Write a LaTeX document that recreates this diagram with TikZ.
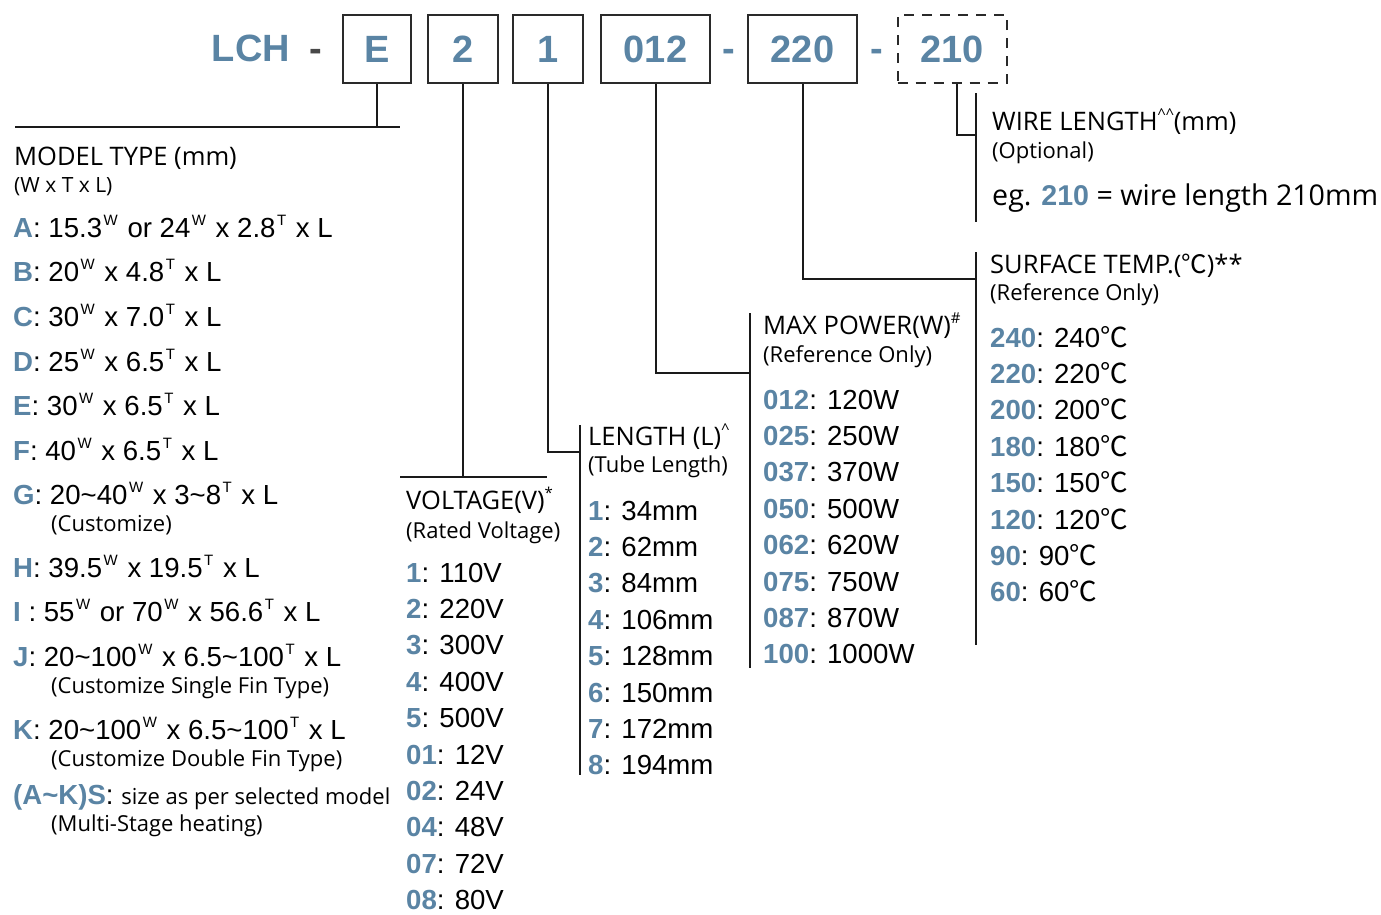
\documentclass[tikz,border=0pt]{standalone}
\usepackage{fontspec}
\setmainfont{Liberation Sans}
\newfontfamily\hdr{Open Sans}
\newfontfamily\cjkf{Noto Sans CJK SC}
\definecolor{lb}{HTML}{5A84A4}
\definecolor{linec}{HTML}{1A1A1A}
\definecolor{boxc}{HTML}{2A2A2A}
\newcommand\bl[1]{\textcolor{lb}{\textbf{#1}}}
\newcommand\sups[1]{\hspace{1.5pt}\raisebox{0.4em}{\fontsize{15}{15}\selectfont #1}\hspace{2pt}}
\newcommand\hsup[1]{\raisebox{0.42em}{\fontsize{15}{15}\selectfont #1}}
\newcommand\sW{\sups{W}}
\newcommand\sT{\sups{T}}
\newcommand\degc{{\cjkf ℃}}
\tikzset{
  val/.style={anchor=base west, inner sep=0pt, font=\fontsize{27.6}{30}\selectfont},
  hd/.style={anchor=base west, inner sep=0pt, font=\hdr\fontsize{25.5}{28}\selectfont},
  subh/.style={anchor=base west, inner sep=0pt, font=\hdr\fontsize{22}{24}\selectfont},
  codebox/.style={draw=boxc, line width=2pt, minimum height=68pt, inner sep=0pt, text=lb,
    font=\bfseries\fontsize{38}{40}\selectfont, text height=27pt, text depth=0pt},
  dashbox/.style={codebox, dashed, dash pattern=on 10pt off 8pt},
  sep/.style={inner sep=0pt, font=\bfseries\fontsize{38}{40}\selectfont, text height=27pt, text depth=0pt},
  ln/.style={draw=linec, line width=2pt},
}
\begin{document}
\begin{tikzpicture}[x=1pt,y=-1pt]
\useasboundingbox (0,0) rectangle (1381,914);
% ---------- header ----------
\node[sep, text=lb, anchor=center] (lch) at (251,48) {LCH};
\node[sep, text=linec!80] (d1) at (316,48) {-};
\node[codebox, minimum width=68pt] (bE) at (377,49) {E};
\node[codebox, minimum width=70pt] (b2) at (463,49) {2};
\node[codebox, minimum width=70pt] (b1) at (548,49) {1};
\node[codebox, minimum width=109pt] (b012) at (655.5,49) {012};
\node[sep, text=lb] (d2) at (729,48) {-};
\node[codebox, minimum width=109pt] (b220) at (802.5,49) {220};
\node[sep, text=lb] (d3) at (877,48) {-};
\node[dashbox, minimum width=109pt] (b210) at (952,49) {210};
% ---------- connectors ----------
\coordinate (mL) at (15,127);
\coordinate (mR) at (400,127);
\draw[ln] (mL) -- (mR);
\draw[ln] (bE.south) -- (bE.south |- mL);
\coordinate (vL) at (400,477);
\coordinate (vR) at (547,477);
\draw[ln] (vL) -- (vR);
\draw[ln] (b2.south) -- (b2.south |- vL);
\coordinate (lT) at (580,425);
\coordinate (lB) at (580,775);
\coordinate (lJ) at (580,452);
\draw[ln] (lT) -- (lB);
\draw[ln] (b1.south) |- (lJ);
\coordinate (pT) at (750,313);
\coordinate (pB) at (750,668);
\coordinate (pJ) at (750,373);
\draw[ln] (pT) -- (pB);
\draw[ln] (b012.south) |- (pJ);
\coordinate (sT) at (976,252);
\coordinate (sB) at (976,645);
\coordinate (sJ) at (976,279);
\draw[ln] (sT) -- (sB);
\draw[ln] (b220.south) |- (sJ);
\coordinate (wT) at (976,93);
\coordinate (wB) at (976,222);
\coordinate (wJ) at (976,135);
\draw[ln] (wT) -- (wB);
\draw[ln] ([xshift=5pt]b210.south) |- (wJ);
% ---------- model type ----------
\node[hd] (mh) at (14,165) {MODEL TYPE (mm)};
\node[subh, font=\hdr\fontsize{21}{24}\selectfont] (ms) at (14,192) {(W x T x L)};
\node[val] (mA) at (13,237) {\bl{A}: 15.3\sW{} or 24\sW{} x 2.8\sT{} x L};
\node[val] (mB) at (13,281) {\bl{B}: 20\sW{} x 4.8\sT{} x L};
\node[val] (mC) at (13,326) {\bl{C}: 30\sW{} x 7.0\sT{} x L};
\node[val] (mD) at (13,371) {\bl{D}: 25\sW{} x 6.5\sT{} x L};
\node[val] (mE) at (13,415) {\bl{E}: 30\sW{} x 6.5\sT{} x L};
\node[val] (mF) at (13,460) {\bl{F}: 40\sW{} x 6.5\sT{} x L};
\node[val] (mG) at (13,504) {\bl{G}: 20\char`~40\sW{} x 3\char`~8\sT{} x L};
\node[subh] (mGs) at (51,531) {(Customize)};
\node[val] (mH) at (13,577) {\bl{H}: 39.5\sW{} x 19.5\sT{} x L};
\node[val] (mI) at (13,621) {\bl{I} : 55\sW{} or 70\sW{} x 56.6\sT{} x L};
\node[val] (mJ) at (13,666) {\bl{J}: 20\char`~100\sW{} x 6.5\char`~100\sT{} x L};
\node[subh] (mJs) at (51,693) {(Customize Single Fin Type)};
\node[val] (mK) at (13,739) {\bl{K}: 20\char`~100\sW{} x 6.5\char`~100\sT{} x L};
\node[subh] (mKs) at (51,766) {(Customize Double Fin Type)};
\node[val] (mS) at (13,804) {\bl{(A\char`~K)S}: {\hdr\fontsize{22}{24}\selectfont size as per selected model}};
\node[subh] (mSs) at (51,831) {(Multi-Stage heating)};
% ---------- voltage ----------
\node[hd] (vh) at (406,509) {VOLTAGE(V)\hsup{*}};
\node[subh] (vs) at (406,538) {(Rated Voltage)};
\foreach \c/\t [count=\i] in {1/110V,2/220V,3/300V,4/400V,5/500V,01/12V,02/24V,04/48V,07/72V,08/80V}
  \node[val] (v\i) at (406,{582+36.4*(\i-1)}) {\bl{\c}: \t};
% ---------- length ----------
\node[hd] (lh) at (588,445) {LENGTH (L)\hsup{\^{}}};
\node[subh] (ls) at (588,472) {(Tube Length)};
\foreach \c/\t [count=\i] in {1/34mm,2/62mm,3/84mm,4/106mm,5/128mm,6/150mm,7/172mm,8/194mm}
  \node[val] (l\i) at (588,{520+36.4*(\i-1)}) {\bl{\c}: \t};
% ---------- max power ----------
\node[hd] (ph) at (763,334) {MAX POWER(W)\hsup{\#}};
\node[subh] (ps) at (763,362) {(Reference Only)};
\foreach \c/\t [count=\i] in {012/120W,025/250W,037/370W,050/500W,062/620W,075/750W,087/870W,100/1000W}
  \node[val] (p\i) at (763,{409+36.4*(\i-1)}) {\bl{\c}: \t};
% ---------- surface temp ----------
\node[hd] (sh) at (990,273) {SURFACE TEMP.(\degc)**};
\node[subh] (ss) at (990,300) {(Reference Only)};
\foreach \c/\t [count=\i] in {240/240,220/220,200/200,180/180,150/150,120/120,90/90,60/60}
  \node[val] (s\i) at (990,{347+36.4*(\i-1)}) {\bl{\c}: \t\degc};
% ---------- wire length ----------
\node[hd] (wh) at (992,130) {WIRE LENGTH\hsup{\^{}\^{}}(mm)};
\node[subh] (ws) at (992,158) {(Optional)};
\node[anchor=base west, inner sep=0pt, font=\hdr\fontsize{28.6}{30}\selectfont] (we) at (992,205)
  {eg. {\fontspec{Liberation Sans}\bfseries\textcolor{lb}{210}} = wire length 210mm};
\end{tikzpicture}
\end{document}
